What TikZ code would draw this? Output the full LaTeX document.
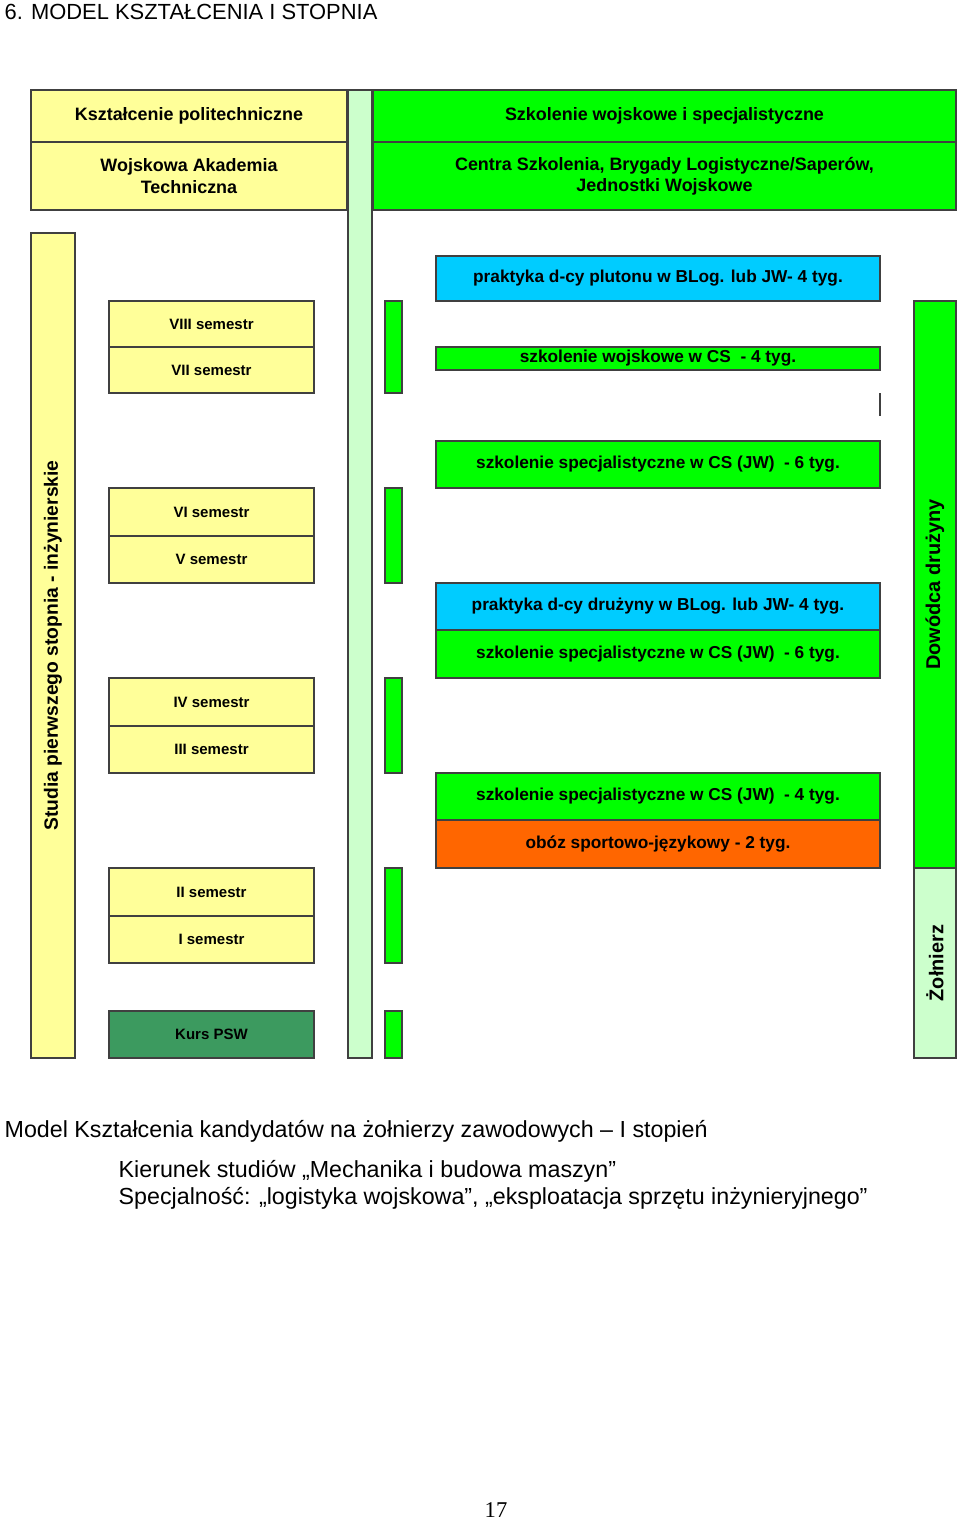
\documentclass[tikz,border=0pt]{standalone}
\usepackage{fontspec}
\setmainfont{Liberation Sans}
\newfontfamily\serifnum{Liberation Serif}
\definecolor{ylw}{RGB}{255,255,153}
\definecolor{grn}{RGB}{0,255,0}
\definecolor{lgrn}{RGB}{204,255,204}
\definecolor{cyn}{RGB}{0,204,255}
\definecolor{org}{RGB}{255,102,0}
\definecolor{dgrn}{RGB}{60,154,95}
\begin{document}
\begin{tikzpicture}[x=0.0264583cm,y=-0.0264583cm,
  bx/.style={draw=black!75,line width=0.9pt},
  hd/.style={font=\fontsize{13.5}{16}\selectfont\bfseries,align=center},
  sm/.style={font=\fontsize{11.3}{13}\selectfont\bfseries},
  rt/.style={font=\fontsize{13}{15}\selectfont\bfseries},
  captxt/.style={font=\fontsize{17.5}{21}\selectfont,anchor=west}]
\useasboundingbox (0,0) rectangle (960,1521);
\node[anchor=west,font=\fontsize{16.5}{19}\selectfont] (title) at (0,12) {6. MODEL KSZTAŁCENIA I STOPNIA};
% header
\draw[bx,fill=lgrn] (348,90) rectangle (372,1058) node[midway] (strip) {};
\draw[bx,fill=ylw] (31,90) rectangle (347,142) node[midway,hd] (h1) {Kształcenie politechniczne};
\draw[bx,fill=ylw] (31,142) rectangle (347,210) node[midway,hd] (h2) {Wojskowa Akademia\\Techniczna};
\draw[bx,fill=grn] (373,90) rectangle (956,142) node[midway,hd] (h3) {Szkolenie wojskowe i specjalistyczne};
\draw[bx,fill=grn] (373,142) rectangle (956,210) node[midway,hd] (h4) {Centra Szkolenia, Brygady Logistyczne/Saperów,\\Jednostki Wojskowe};
% left vertical
\draw[bx,fill=ylw] (31,233) rectangle (75,1058) node[midway,rotate=90,font=\fontsize{14.5}{17}\selectfont\bfseries] (studia) {Studia pierwszego stopnia - inżynierskie};
% semesters
\foreach \a/\b/\t/\n in {301/347/VIII semestr/s8,347/393/VII semestr/s7,488/536/VI semestr/s6,536/583/V semestr/s5,678/726/IV semestr/s4,726/773/III semestr/s3,868/916/II semestr/s2,916/963/I semestr/s1}
  \draw[bx,fill=ylw] (109,\a) rectangle (314,\b) node[midway,sm] (\n) {\t};
\draw[bx,fill=dgrn] (109,1011) rectangle (314,1058) node[midway,sm] (psw) {Kurs PSW};
% small bars
\foreach \a/\b/\n in {301/393/g1,488/583/g2,678/773/g3,868/963/g4,1011/1058/g5}
  \draw[bx,fill=grn] (385,\a) rectangle (402,\b) node[midway] (\n) {};
% right boxes
\draw[bx,fill=cyn] (436,256) rectangle (880,301) node[midway,rt] (r1) {praktyka d-cy plutonu w BLog. lub JW- 4 tyg.};
\draw[bx,fill=grn] (436,347) rectangle (880,370) node[midway,rt] (r2) {szkolenie wojskowe w CS \ - 4 tyg.};
\coordinate (la) at (880,393); \coordinate (lb) at (880,416);
\draw[black!75,line width=0.9pt] (la) -- (lb);
\draw[bx,fill=grn] (436,441) rectangle (880,488) node[midway,rt] (r3) {szkolenie specjalistyczne w CS (JW) \ - 6 tyg.};
\draw[bx,fill=cyn] (436,583) rectangle (880,630) node[midway,rt] (r4) {praktyka d-cy drużyny w BLog. lub JW- 4 tyg.};
\draw[bx,fill=grn] (436,630) rectangle (880,678) node[midway,rt] (r5) {szkolenie specjalistyczne w CS (JW) \ - 6 tyg.};
\draw[bx,fill=grn] (436,773) rectangle (880,820) node[midway,rt] (r6) {szkolenie specjalistyczne w CS (JW) \ - 4 tyg.};
\draw[bx,fill=org] (436,820) rectangle (880,868) node[midway,rt] (r7) {obóz sportowo-językowy - 2 tyg.};
% right vertical
\draw[bx,fill=grn] (914,301) rectangle (956,868) node[midway,rotate=90,font=\fontsize{15}{18}\selectfont\bfseries] (dd) {Dowódca drużyny};
\draw[bx,fill=lgrn] (914,868) rectangle (956,1058) node[midway,rotate=90,font=\fontsize{15}{18}\selectfont\bfseries] (zo) {Żołnierz};
% captions
\node[captxt] (c1) at (0,1131) {Model Kształcenia kandydatów na żołnierzy zawodowych – I stopień};
\node[captxt] (c2) at (114,1171) {Kierunek studiów „Mechanika i budowa maszyn”};
\node[captxt] (c3) at (114,1198) {Specjalność: „logistyka wojskowa”, „eksploatacja sprzętu inżynieryjnego”};
\node[font=\serifnum\fontsize{17}{20}\selectfont] (pg) at (496,1510) {17};
\end{tikzpicture}
\end{document}
